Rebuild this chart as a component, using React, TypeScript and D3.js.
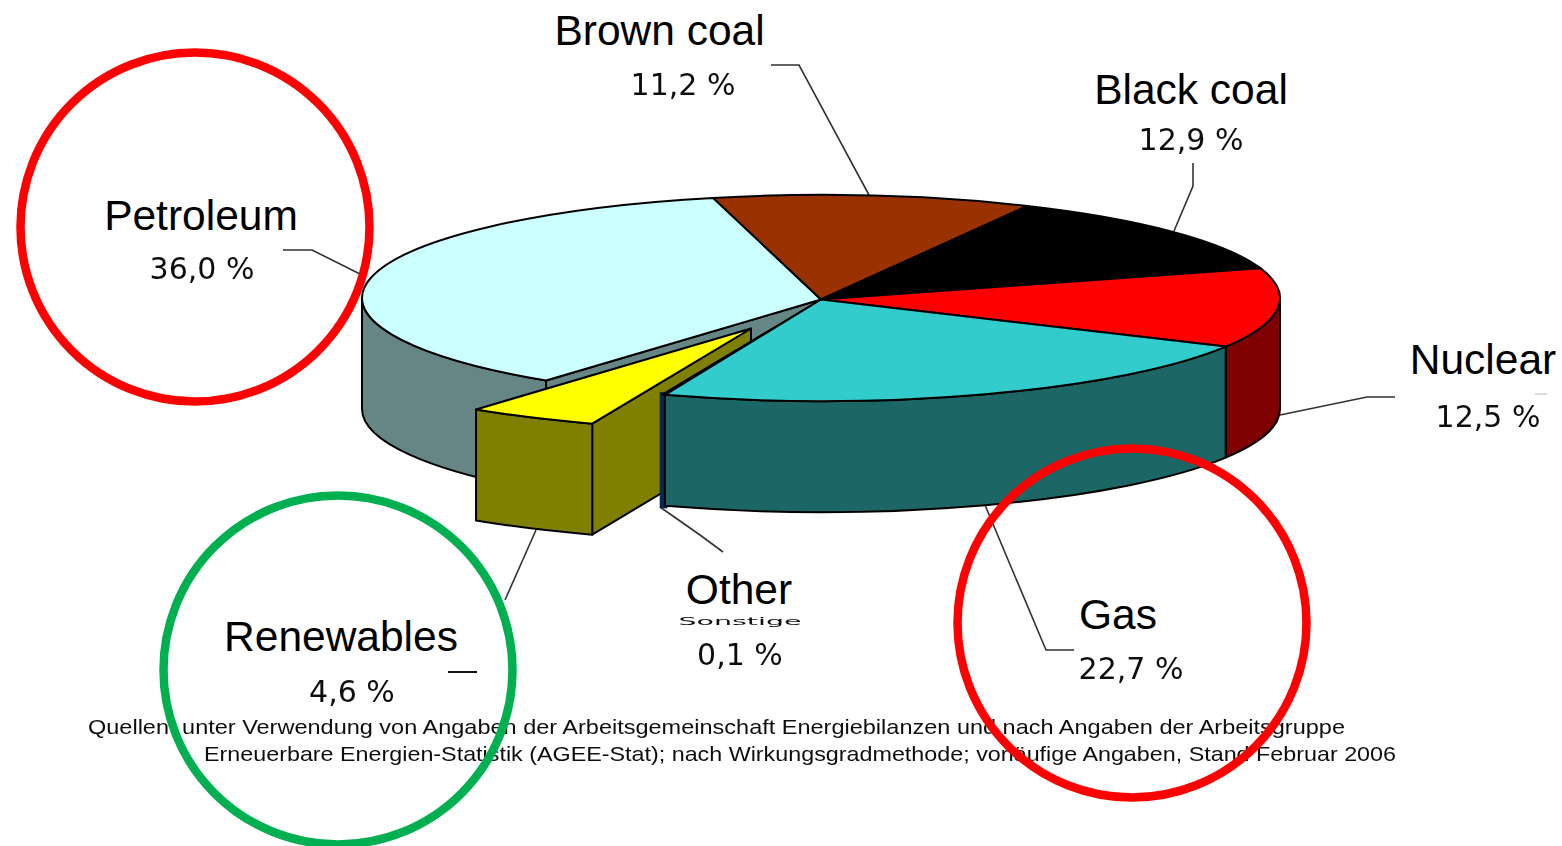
import React from "react";
import * as d3 from "d3";

// Primary energy shares in percent, in clockwise order around the pie.
const categories = ["Brown coal", "Black coal", "Nuclear", "Gas", "Other", "Renewables", "Petroleum"];
const shares = [11.2, 12.9, 12.5, 22.7, 0.1, 4.6, 36.0];
const shareLabels = ["11,2 %", "12,9 %", "12,5 %", "22,7 %", "0,1 %", "4,6 %", "36,0 %"];
const topColors = ["#993300", "#000000", "#ff0000", "#33cccc", "#003366", "#ffff00", "#ccffff"];
const sideColors = ["#4d1a00", "#000000", "#7f0000", "#1a6666", "#002a55", "#808000", "#668585"];
// Back-to-front order so nearer slices cover the ones behind them.
const paintOrder = ["Petroleum", "Brown coal", "Black coal", "Nuclear", "Renewables", "Other", "Gas"];
const footerLines = [
  "Quellen: unter Verwendung von Angaben der Arbeitsgemeinschaft Energiebilanzen und nach Angaben der Arbeitsgruppe",
  "Erneuerbare Energien-Statistik (AGEE-Stat); nach Wirkungsgradmethode; vorläufige Angaben, Stand Februar 2006",
];

const WIDTH = 1562;
const HEIGHT = 846;
const RX = 459;
const RY = 103;
const CX = 821;
const CY = 298;
const APEX_Y = 299.5;
const DEPTH = 111;
const START = (-13.6 * Math.PI) / 180;

const labelFont = "'Liberation Sans', Arial, sans-serif";
const shareFont = "'DejaVu Sans', sans-serif";

type Anchor = { name: string; x: number; y: number; sx: number; sy: number };
const nameAnchors: Anchor[] = [
  { name: "Brown coal", x: 659.5, y: 45, sx: 683, sy: 95 },
  { name: "Black coal", x: 1191, y: 104, sx: 1191, sy: 150 },
  { name: "Nuclear", x: 1483, y: 374, sx: 1488, sy: 427 },
  { name: "Gas", x: 1118, y: 629, sx: 1131, sy: 679 },
  { name: "Other", x: 739, y: 604, sx: 740, sy: 665 },
  { name: "Renewables", x: 341, y: 651, sx: 352, sy: 702 },
  { name: "Petroleum", x: 201, y: 230, sx: 202, sy: 279 },
];

const leaders: [number, number][][] = [
  [[283, 250], [312, 250], [362, 275]],
  [[771, 65], [799, 65], [869, 195]],
  [[1193, 163], [1193, 186], [1174, 231]],
  [[1280, 415], [1367, 397], [1395, 397]],
  [[985, 505], [1046, 650], [1074, 650]],
  [[536, 530], [505, 600]],
  [[660, 507], [700, 535], [723, 552]],
];
const strayDashes: [number, number, number, string, number][] = [
  [448, 477, 672, "#111", 2],
  [1535, 1547, 394, "#bbb", 1],
];

const rings = [
  { cx: 195, cy: 227, color: "#ff0000" },
  { cx: 338, cy: 670, color: "#00b050" },
  { cx: 1132, cy: 623, color: "#ff0000" },
];
const RING_R = 174.5;

// Only the renewables slice is pulled out of the pie.
const explode: Record<string, [number, number]> = { Renewables: [-70, 29] };

const x = d3.scaleLinear().domain([-1, 1]).range([CX - RX, CX + RX]);
const y = d3.scaleLinear().domain([-1, 1]).range([CY - RY, CY + RY]);
const rim = (a: number) => [x(Math.sin(a)), y(-Math.cos(a))];

function topPath(a0: number, a1: number) {
  const [x0, y0] = rim(a0);
  const [x1, y1] = rim(a1);
  const large = a1 - a0 > Math.PI ? 1 : 0;
  return `M${CX},${APEX_Y}L${x0},${y0}A${RX},${RY} 0 ${large} 1 ${x1},${y1}Z`;
}

// Outer wall, limited to the half of the rim that faces the viewer.
function wallPath(a0: number, a1: number) {
  const from = Math.max(a0, Math.PI / 2);
  const to = Math.min(a1, (3 * Math.PI) / 2);
  if (to <= from) return null;
  const [x0, y0] = rim(from);
  const [x1, y1] = rim(to);
  return `M${x0},${y0}A${RX},${RY} 0 0 1 ${x1},${y1}L${x1},${y1 + DEPTH}A${RX},${RY} 0 0 0 ${x0},${y0 + DEPTH}Z`;
}

// Flat cut face along one radius of the slice.
function cutPath(a: number) {
  const [x0, y0] = rim(a);
  return `M${CX},${APEX_Y}L${x0},${y0}L${x0},${y0 + DEPTH}L${CX},${APEX_Y + DEPTH}Z`;
}

export default function App() {
  const arcs = d3
    .pie<number>()
    .sort(null)
    .startAngle(START)
    .endAngle(START + 2 * Math.PI)(shares);
  const line = d3.line();

  return (
    <svg
      width={WIDTH}
      height={HEIGHT}
      viewBox={`0 0 ${WIDTH} ${HEIGHT}`}
      style={{ position: "fixed", left: 0, top: 0, display: "block", background: "#fff" }}
    >
      <defs>
        <filter id="soft" x="-5%" y="-20%" width="110%" height="140%">
          <feGaussianBlur stdDeviation="0.65" />
        </filter>
        <filter id="softEdge" x="-5%" y="-5%" width="110%" height="110%">
          <feGaussianBlur stdDeviation="0.45" />
        </filter>
      </defs>

      <g filter="url(#softEdge)">
        {leaders.map((pts, i) => (
          <path key={i} d={line(pts) ?? ""} fill="none" stroke="#333" strokeWidth={1.6} />
        ))}
        {paintOrder.map((name) => {
          const i = categories.indexOf(name);
          const { startAngle, endAngle } = arcs[i];
          const [dx, dy] = explode[name] ?? [0, 0];
          const wall = wallPath(startAngle, endAngle);
          const strokeProps = { stroke: "#000", strokeWidth: 2, strokeLinejoin: "round" as const };
          // The sliver-thin slice keeps its own colour along the wall outline.
          const wallStroke =
            name === "Other" ? { stroke: sideColors[i], strokeWidth: 5, strokeLinejoin: "miter" as const } : strokeProps;
          return (
            <g key={name} transform={`translate(${dx},${dy})`}>
              {(name === "Petroleum" || name === "Renewables") && (
                <path d={cutPath(startAngle)} fill={sideColors[i]} {...strokeProps} />
              )}
              {wall && <path d={wall} fill={sideColors[i]} {...wallStroke} />}
              <path d={topPath(startAngle, endAngle)} fill={topColors[i]} {...strokeProps} />
            </g>
          );
        })}
      </g>

      <g filter="url(#soft)" fill="#111" fontFamily={shareFont} fontSize={30} textAnchor="middle">
        {nameAnchors.map((a) => (
          <text key={a.name} x={a.sx} y={a.sy}>
            {shareLabels[categories.indexOf(a.name)]}
          </text>
        ))}
        <text x={740} y={625} fontSize={11} textLength={123} lengthAdjust="spacingAndGlyphs">
          Sonstige
        </text>
      </g>

      <g filter="url(#soft)" fill="#111" fontFamily={labelFont} fontSize={21}>
        <text x={88} y={734} textLength={1257} lengthAdjust="spacingAndGlyphs">
          {footerLines[0]}
        </text>
        <text x={204} y={761} textLength={1192} lengthAdjust="spacingAndGlyphs">
          {footerLines[1]}
        </text>
      </g>

      {strayDashes.map(([x0, x1, yy, color, w], i) => (
        <line key={i} x1={x0} x2={x1} y1={yy} y2={yy} stroke={color} strokeWidth={w} />
      ))}

      {rings.map((r, i) => (
        <circle key={i} cx={r.cx} cy={r.cy} r={RING_R} fill="none" stroke={r.color} strokeWidth={8.5} />
      ))}

      <g fill="#000" fontFamily={labelFont} fontSize={42.5} textAnchor="middle">
        {nameAnchors.map((a) => (
          <text key={a.name} x={a.x} y={a.y}>
            {a.name}
          </text>
        ))}
      </g>
    </svg>
  );
}
